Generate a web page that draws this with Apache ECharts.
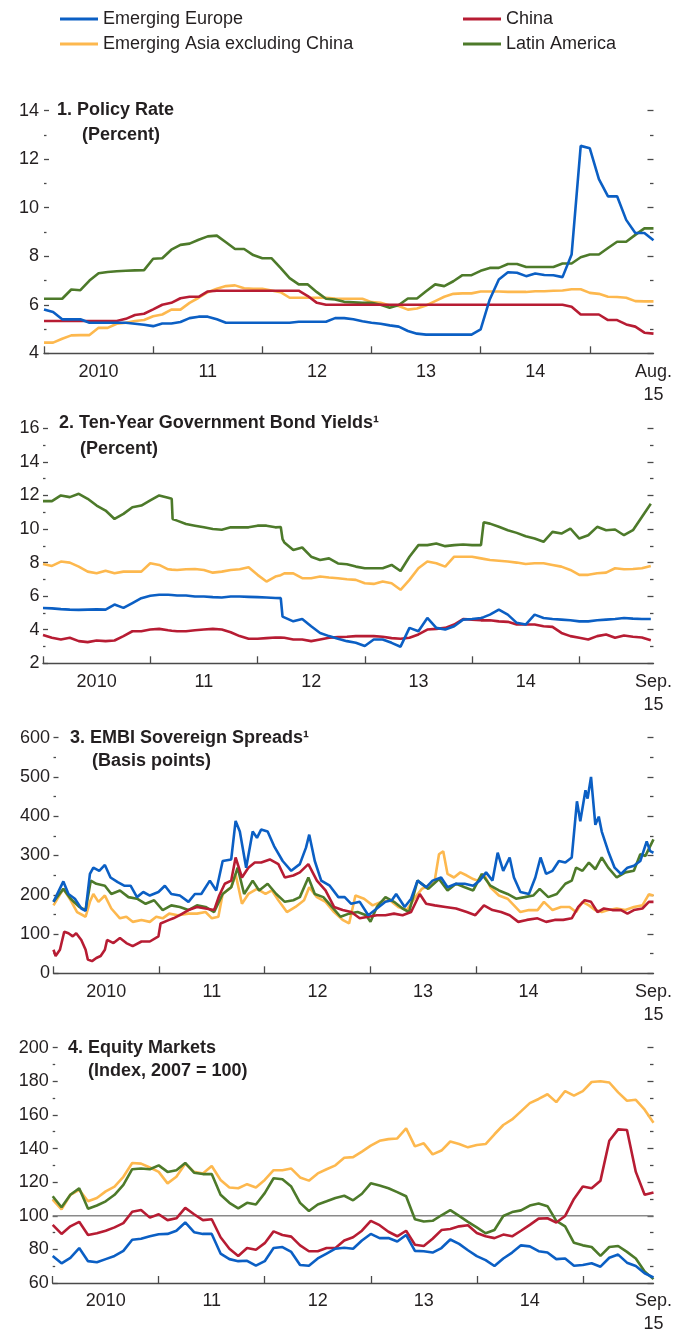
<!DOCTYPE html>
<html><head><meta charset="utf-8">
<script src="https://cdn.jsdelivr.net/npm/echarts@6/dist/echarts.min.js"></script>
<style>html,body{margin:0;padding:0;background:#fff}#c{width:675px;height:1336px}</style>
</head><body><div id="c"></div>
<script>
// ---------- DATA (x = months since Jan 2010) ----------
const seriesNames = ['Emerging Europe', 'China', 'Emerging Asia excluding China', 'Latin America'];
const yearLabels = ['2010', '11', '12', '13', '14'];
const lastLabelP1 = 'Aug.\n15';
const lastLabel = 'Sep.\n15';

// Panel 1: Policy Rate (monthly, Jan 2010 - Aug 2015)
const p1Months = Array.from({length: 68}, (_, i) => i);
const p1Europe = [5.81,5.7,5.4,5.4,5.4,5.26,5.26,5.26,5.26,5.26,5.22,5.18, 5.12,5.23,5.23,5.29,5.45,5.51,5.51,5.4,5.26,5.26,5.26,5.26, 5.26,5.26,5.26,5.26,5.3,5.3,5.3,5.3,5.45,5.45,5.4,5.32, 5.26,5.22,5.15,5.1,4.92,4.81,4.77,4.77,4.77,4.77,4.77,4.77, 4.99,6.22,7.04,7.34,7.32,7.18,7.29,7.23,7.22,7.14,8.07,12.55, 12.45,11.18,10.47,10.47,9.5,8.96,8.96,8.66];
const p1China = [5.33,5.33,5.33,5.33,5.33,5.33,5.33,5.33,5.33,5.42,5.58,5.63, 5.81,6.0,6.08,6.27,6.33,6.33,6.55,6.58,6.58,6.58,6.58,6.58, 6.58,6.58,6.58,6.58,6.58,6.36,6.08,6.0,6.0,6.0,6.0,6.0, 6.0,6.0,6.0,6.0,6.0,6.0,6.0,6.0,6.0,6.0,6.0,6.0, 6.0,6.0,6.0,6.0,6.0,6.0,6.0,6.0,6.0,6.0,5.92,5.6, 5.6,5.6,5.37,5.37,5.19,5.1,4.85,4.81];
const p1Asia = [4.44,4.44,4.6,4.74,4.75,4.75,5.05,5.05,5.22,5.26,5.33,5.37, 5.53,5.6,5.8,5.8,6.08,6.29,6.52,6.66,6.77,6.8,6.68,6.66, 6.66,6.59,6.52,6.29,6.29,6.29,6.29,6.29,6.26,6.25,6.25,6.25, 6.11,6.08,5.97,5.95,5.8,5.85,5.97,6.15,6.33,6.45,6.47,6.47, 6.55,6.55,6.55,6.53,6.53,6.53,6.56,6.56,6.58,6.59,6.64,6.64, 6.49,6.45,6.33,6.32,6.29,6.15,6.14,6.14];
const p1Latam = [6.25,6.25,6.25,6.63,6.6,7.0,7.3,7.35,7.38,7.4,7.42,7.43, 7.9,7.92,8.27,8.47,8.52,8.68,8.82,8.85,8.58,8.3,8.3,8.05, 7.92,7.92,7.52,7.1,6.84,6.84,6.52,6.25,6.22,6.12,6.1,6.08, 6.08,6.0,5.88,5.99,6.26,6.26,6.56,6.84,6.77,6.97,7.22,7.22, 7.4,7.52,7.52,7.68,7.68,7.56,7.56,7.56,7.56,7.7,7.7,7.96, 8.07,8.07,8.34,8.6,8.6,8.88,9.15,9.15];

// Panel 2: Ten-year government bond yields
const p2Months = [0,1,2,3,4,5,6,7,8,9,10,11,12,13,14,14.4,14.5, 15,16,17,18,19,20,21,22,23,24,25,26,26.6,26.8, 27,28,29,30,31,32,33,34,35,36,37,38,39,40,41,42,43,44,45,46,47,48,49,49.1,49.3, 50,51,52,53,54,55,56,57,58,59,60,61,62,63,64,65,66,67,68];
const p2Europe = [5.29,5.27,5.23,5.2,5.18,5.2,5.21,5.2,5.5,5.3,5.59,5.88,6.02,6.08,6.08,6.07,6.07, 6.04,6.04,5.98,5.98,5.94,5.92,5.98,5.98,5.96,5.94,5.92,5.89,5.88,4.78, 4.76,4.5,4.64,4.21,3.81,3.62,3.46,3.32,3.22,3.03,3.42,3.42,3.22,2.99,4.11,3.91,4.7,4.11,4.01,4.21,4.6,4.64,4.7,4.72,4.75, 4.9,5.2,4.9,4.41,4.31,4.9,4.7,4.64,4.6,4.56,4.5,4.5,4.56,4.6,4.64,4.7,4.66,4.64,4.64];
const p2China = [3.68,3.52,3.42,3.52,3.32,3.26,3.36,3.32,3.36,3.62,3.91,3.91,4.01,4.05,3.97,3.94,3.93, 3.91,3.91,3.97,4.01,4.05,4.01,3.85,3.62,3.46,3.46,3.5,3.54,3.53,3.52, 3.52,3.42,3.42,3.32,3.42,3.52,3.56,3.58,3.62,3.62,3.62,3.58,3.5,3.46,3.52,3.72,4.01,4.05,4.11,4.31,4.64,4.6,4.56,4.56,4.56, 4.56,4.5,4.47,4.31,4.31,4.31,4.21,4.17,3.81,3.62,3.52,3.42,3.62,3.72,3.52,3.66,3.58,3.54,3.38];
const p2Asia = [7.92,7.8,8.06,8.0,7.76,7.46,7.36,7.52,7.36,7.46,7.46,7.46,7.96,7.86,7.6,7.58,7.58, 7.56,7.6,7.62,7.56,7.4,7.46,7.56,7.6,7.72,7.27,6.87,7.17,7.25,7.3, 7.36,7.36,7.07,7.07,7.17,7.11,7.07,7.01,6.97,6.77,6.73,6.87,6.77,6.38,6.97,7.66,8.06,7.96,7.76,8.35,8.35,8.35,8.25,8.24,8.22, 8.15,8.11,8.06,8.0,7.92,7.96,7.96,7.86,7.76,7.56,7.27,7.27,7.36,7.4,7.66,7.6,7.62,7.66,7.8];
const p2Latam = [11.66,11.66,12.0,11.9,12.1,11.8,11.4,11.1,10.6,10.9,11.3,11.4,11.7,12.0,11.86,11.8,10.6, 10.5,10.3,10.2,10.1,10.0,9.96,10.1,10.1,10.1,10.2,10.2,10.1,10.12,9.4, 9.2,8.75,8.9,8.35,8.15,8.25,7.95,7.9,7.76,7.66,7.66,7.66,7.86,7.5,8.35,9.04,9.04,9.14,8.98,9.04,9.08,9.04,9.04,9.04,10.4, 10.32,10.13,9.93,9.77,9.57,9.43,9.24,9.83,9.73,10.03,9.43,9.63,10.13,9.93,9.97,9.63,9.93,10.72,11.5];

// Panel 3: EMBI sovereign spreads (irregular sampling per series)
const p3EuropeM = [0,1.12,1.7,2.43,3.16,3.65,4.14,4.53,5.2,5.84, 6.48,7.3,8.03,8.76,9.49,10.2,10.95,11.93,12.66,13.39, 14.36,15.34,16.07,16.8,17.77,18.5,19.23,20.2,20.7,21.18, 21.9,22.64,23.13,23.6,24.34,25.07,26.05,27.02,28,28.7, 29.07,29.7,30.43,31.4,32.38,33.1,33.84,34.81,35.78,36.76, 37.73,38.46,38.95,39.92,40.65,41.38,42.36,43.09,44.06,44.79, 45.76,46.74,47.71,48.44,49.17,49.9,50.49,51.12,51.85,52.34, 53.07,54.04,54.77,55.36,55.99,56.72,57.45,58.18,58.91,59.5, 59.88,60.47,60.71,61.1,61.59,61.98,62.32,63.05,63.78,64.51, 65.24,65.97,66.7,67.43,67.82,68.2];
const p3EuropeV = [182,234,202,190,165,159,253,269,261,276, 244,232,223,223,194,207,198,207,223,202, 198,182,202,202,236,211,286,290,388,361, 269,361,345,366,361,324,286,261,278,320, 353,286,236,223,194,194,177,182,148,165, 182,186,202,169,190,236,219,236,244,219, 228,228,223,236,257,236,307,261,295,244, 207,202,244,295,253,261,286,282,295,438, 387,466,445,500,378,399,361,311,269,253, 269,274,286,336,311,307];
const p3ChinaM = [0,0.24,0.73,1.22,1.7,2.19,2.58,3.16,3.65,3.9, 4.38,4.87,5.36,5.84,6.09,6.82,7.55,8.28,9.0,10, 10.95,11.93,12.17,13.15,13.63,14.36,15.34,16.31,17.28,18.26, 18.84,19.47,20.2,20.7,21.42,22.15,22.88,23.61,24.59,25.56, 26.29,27.26,28,28.97,29.94,30.92,31.89,32.86,33.84,34.81, 35.78,36.76,37.73,38.7,39.68,40.65,41.63,42.36,43.33,44.55, 45.76,46.98,47.95,48.93,49.9,50.88,51.85,52.83,53.8,55.02, 55.99,56.97,57.94,58.91,59.65,60.38,61.1,61.83,62.56,63.53, 64.51,65.24,65.97,66.94,67.67,68.2];
const p3ChinaV = [60,44,60,106,102,94,102,85,60,35, 31,39,44,60,85,77,90,77,69,81, 81,94,127,136,140,148,161,169,165,161, 198,228,236,295,244,269,282,282,290,278, 244,249,257,278,236,211,169,161,156,140, 144,148,148,152,148,156,202,177,173,169, 165,156,148,173,161,156,148,131,136,140, 131,136,136,140,169,186,182,156,165,161, 161,152,161,165,182,182];
const p3AsiaM = [0,1.12,1.95,2.68,3.65,4.14,4.53,5.11,5.84,6.57, 7.55,8.28,9.0,10,10.95,11.68,12.41,13.15,14.12,15.34, 16.31,17.28,18,18.74,19.23,20.2,20.7,21.42,22.15,23.13, 24.1,24.83,25.56,26.53,27.5,28.48,29.07,29.94,30.92,31.89, 32.86,33.6,34.32,35.3,36.27,37.24,38.22,39.19,40.17,41.14, 41.87,42.6,43.33,43.82,44.3,44.79,45.52,46.25,46.98,47.71, 48.2,48.93,49.66,50.63,51.61,52.34,53.07,54.04,55.02,55.75, 56.72,57.69,58.66,59.4,60.13,60.86,61.59,62.32,63.05,64.02, 65,65.97,66.94,67.67,68.2];
const p3AsiaV = [173,215,186,156,144,182,202,182,198,165, 140,144,131,136,131,144,140,152,148,152, 152,156,140,144,202,219,253,177,202,215, 202,211,186,156,169,186,219,194,182,156, 136,127,198,190,173,182,186,169,161,194, 215,223,236,303,311,253,244,257,249,240, 236,253,219,198,190,173,156,161,161,182, 161,169,169,156,182,173,161,156,161,165, 161,169,173,201,198];
const p3LatamM = [0,1.12,1.95,2.92,3.65,4.24,4.87,5.84,6.57,7.55, 8.52,9.49,10.47,11.44,12.41,13.39,14.36,15.34,16.31,17.28, 18.26,19.23,20.2,20.93,21.67,22.64,23.37,24.34,25.32,26.29, 27.26,28,28.97,29.7,30.67,31.65,32.62,33.6,34.57,35.54, 36.03,36.76,37.73,38.7,39.68,40.41,41.38,42.6,43.82,44.79, 45.76,46.74,47.71,48.69,49.66,50.63,51.61,52.58,53.56,54.53, 55.26,56.24,57.21,58.18,58.91,59.4,60.13,60.86,61.59,62.32, 63.05,64.02,65,65.97,66.7,67.28,68.2];
const p3LatamV = [182,215,190,169,161,236,228,223,202,211, 194,190,177,186,161,173,169,161,173,169, 156,202,219,269,202,236,211,228,202,182, 186,194,244,202,194,169,144,152,156,148, 131,169,194,182,165,156,236,215,240,211, 228,219,211,253,223,211,202,190,194,198, 215,194,202,228,236,269,261,282,265,295, 269,244,257,261,303,299,341];

// Panel 4: Equity markets (monthly, Jan 2010 - Sep 2015)
const p4Months = Array.from({length: 69}, (_, i) => i);
const p4Europe = [76.1,71.7,75,80.8,73,72.3,74.2,76.1,79.1,85.7,86.3,87.8, 89,89.2,91.1,96,90.2,89.2,89.2,77.5,74.2,73,73.2,70.3, 73,80.8,81.4,78.5,70.7,70.3,74.6,77.5,80.4,81,80.4,85.3, 89.2,86.7,86.8,84.7,88.6,79.1,78.9,78.1,80.8,85.9,83.3,79.5, 76,73.6,70.1,74.6,78.1,82.4,81.8,78.9,78.1,74.2,74.6,70.3, 70.7,71.7,69.7,75,76.9,72.1,70.1,65.8,63.3];
const p4China = [94.6,89.2,93.7,96.4,88.6,89.6,91.1,93.1,95.6,102.4,103.4,98.9, 100.9,97.4,98.5,104.7,100.9,97.4,97.9,87.2,80.4,76.1,80.8,79.8, 83.7,90.7,88.6,87.6,82.4,78.9,78.9,80.8,80.8,85.3,87.2,91.1, 97,94.4,90.5,87.8,91.1,82.8,82,86.3,91.5,92.1,93.7,94.4, 89.8,87.8,86.7,88.8,87.8,91.1,94.6,98.3,98.5,96,99.9,110, 117.4,116.4,120.9,144.6,151.4,151,126.1,112.5,113.9];
const p4Asia = [109.6,103.8,112.5,115.4,108.6,110.6,114.5,117.4,123.2,131.4,131,128.7, 126.1,119.3,123.2,131,126.1,125.2,129.6,121.3,116.8,116.4,118.8,116.8, 121.3,127.1,127.1,128.1,122.8,120.9,125.2,127.7,130,134.5,134.9,138.2, 141.7,144.6,145.6,146,152,141.3,143.1,136.5,138.8,144.2,142.7,140.7, 142.1,142.7,148.5,154,157.3,162.1,167,169.5,172.3,167.6,174.2,171.5, 174.2,179.6,180,179.3,173.4,168.4,169,163.1,155.3];
const p4Latam = [111.6,105.1,112.5,116.4,104.2,106.1,108.6,112.5,118.4,127.7,128.1,127.7, 130,126.1,127.1,131.4,125.6,124.8,124.8,112.5,107.7,104.4,107.7,106.7, 113.5,122.3,121.7,117.4,107.7,102.8,106.7,108.6,110.6,111.9,109.2,113.1, 119.3,118,116.4,114.1,111.6,97.9,96.6,97,100.3,103.4,99.9,96.4, 93.1,89.6,91.5,99.9,102.2,103.2,106.1,107.3,105.7,97,93.7,83.9, 82.4,81.4,76.1,81.4,82,78.5,74.6,66.8,62.3];
const p4RefLevel = 100;

// ---------- CHART ----------
const FONT = '"Liberation Sans", Arial, sans-serif';
const TXT = '#231f20';
const AX = '#4a4a4a';
const COL = {
  'Emerging Europe': '#0b5fc4',
  'China': '#b71c33',
  'Emerging Asia excluding China': '#fdb84e',
  'Latin America': '#4d7a2a'
};
const zip = (xs, ys) => xs.map((x, i) => [x, ys[i]]);

const panels = [
  {grid: {left: 44, right: 17, top: 110.7, height: 242.6}, y: [4, 14, 2], xmax: 67, last: lastLabelP1, lblMargin: 5,
   t1: '1. Policy Rate', t1pos: [57, 100], t2: '(Percent)', t2pos: [82, 125],
   data: {'Emerging Europe': zip(p1Months, p1Europe), 'China': zip(p1Months, p1China),
          'Emerging Asia excluding China': zip(p1Months, p1Asia), 'Latin America': zip(p1Months, p1Latam)}},
  {grid: {left: 43, right: 17, top: 428.3, height: 235}, y: [2, 16, 2], xmax: 68.3, last: lastLabel, lblMargin: 3.5,
   t1: '2. Ten-Year Government Bond Yields\u00B9', t1pos: [59, 413.5], t2: '(Percent)', t2pos: [80, 439],
   data: {'Emerging Europe': zip(p2Months, p2Europe), 'China': zip(p2Months, p2China),
          'Emerging Asia excluding China': zip(p2Months, p2Asia), 'Latin America': zip(p2Months, p2Latam)}},
  {grid: {left: 53.5, right: 17, top: 737.7, height: 235.6}, y: [0, 600, 100], xmax: 68.2, last: lastLabel, lblMargin: 3.5,
   t1: '3. EMBI Sovereign Spreads\u00B9', t1pos: [70, 728], t2: '(Basis points)', t2pos: [92, 751],
   data: {'Emerging Europe': zip(p3EuropeM, p3EuropeV), 'China': zip(p3ChinaM, p3ChinaV),
          'Emerging Asia excluding China': zip(p3AsiaM, p3AsiaV), 'Latin America': zip(p3LatamM, p3LatamV)}},
  {grid: {left: 52.7, right: 17, top: 1047.7, height: 236.6}, y: [60, 200, 20], xmax: 68, last: lastLabel, lblMargin: 4,
   t1: '4. Equity Markets', t1pos: [68, 1038], t2: '(Index, 2007 = 100)', t2pos: [88, 1061],
   data: {'Emerging Europe': zip(p4Months, p4Europe), 'China': zip(p4Months, p4China),
          'Emerging Asia excluding China': zip(p4Months, p4Asia), 'Latin America': zip(p4Months, p4Latam)}}
];

const drawOrder = ['Emerging Asia excluding China', 'Latin America', 'China', 'Emerging Europe'];
const titles = [], grids = [], xAxes = [], yAxes = [], series = [];

panels.forEach((p, i) => {
  grids.push(Object.assign({containLabel: false}, p.grid));
  const ts = {fontSize: 18, fontWeight: 'bold', color: TXT, fontFamily: FONT, lineHeight: 20};
  titles.push({text: p.t1, left: p.t1pos[0], top: p.t1pos[1], padding: 0, textStyle: ts});
  titles.push({text: p.t2, left: p.t2pos[0], top: p.t2pos[1], padding: 0, textStyle: ts});
  const lastVal = p.xmax;
  xAxes.push({
    type: 'value', gridIndex: i, min: 0, max: p.xmax, interval: 12,
    axisLine: {show: true, lineStyle: {color: AX, width: 1.4}},
    axisTick: {show: true, inside: true, length: 7, lineStyle: {color: AX, width: 1.3},
               customValues: [0, 12, 24, 36, 48, 60]},
    splitLine: {show: false},
    axisLabel: {
      show: true, margin: 7, color: TXT, fontSize: 18, fontFamily: FONT, lineHeight: 23,
      customValues: [6, 18, 30, 42, 54, lastVal],
      formatter: v => (v > 60 ? p.last : yearLabels[Math.round((v - 6) / 12)])
    }
  });
  const yCommon = {type: 'value', gridIndex: i, min: p.y[0], max: p.y[1], interval: p.y[2],
    splitLine: {show: false}, axisLine: {show: false}};
  yAxes.push(Object.assign({}, yCommon, {
    position: 'left',
    axisTick: {show: true, inside: true, length: 5, lineStyle: {color: AX, width: 1.3}},
    minorTick: {show: true, splitNumber: 2, length: 2.5, lineStyle: {color: AX, width: 1.3}},
    axisLabel: {show: true, margin: p.lblMargin, color: TXT, fontSize: 18, fontFamily: FONT}
  }));
  yAxes.push(Object.assign({}, yCommon, {
    position: 'right',
    axisTick: {show: true, inside: true, length: 6, lineStyle: {color: AX, width: 1.3}},
    minorTick: {show: true, splitNumber: 2, length: 3.5, lineStyle: {color: AX, width: 1.3}},
    axisLabel: {show: false}
  }));
  if (i === 3) {
    series.push({
      type: 'line', name: 'ref100', xAxisIndex: i, yAxisIndex: 2 * i,
      data: [[0, p4RefLevel], [p.xmax, p4RefLevel]], symbol: 'none', silent: true,
      lineStyle: {color: '#8a8a8a', width: 1.6}, z: 1
    });
  }
  drawOrder.forEach(name => {
    series.push({
      type: 'line', name, xAxisIndex: i, yAxisIndex: 2 * i, data: p.data[name],
      symbol: 'none', showSymbol: false, clip: true,
      lineStyle: {color: COL[name], width: 2.6}, itemStyle: {color: COL[name]}, z: 2
    });
  });
});

const legendCommon = {orient: 'vertical', top: 9, itemWidth: 38, itemHeight: 3, itemGap: 5, icon: 'rect',
  padding: 0, selectedMode: false, textStyle: {fontSize: 18, color: TXT, fontFamily: FONT, lineHeight: 20}};

const option = {
  animation: false,
  backgroundColor: '#ffffff',
  textStyle: {fontFamily: FONT},
  title: titles,
  legend: [
    Object.assign({}, legendCommon, {left: 60, data: ['Emerging Europe', 'Emerging Asia excluding China']}),
    Object.assign({}, legendCommon, {left: 463, data: ['China', 'Latin America']})
  ],
  grid: grids, xAxis: xAxes, yAxis: yAxes, series
};
const chart = echarts.init(document.getElementById('c'), null, {renderer: 'canvas'});
chart.setOption(option);
</script></body></html>
